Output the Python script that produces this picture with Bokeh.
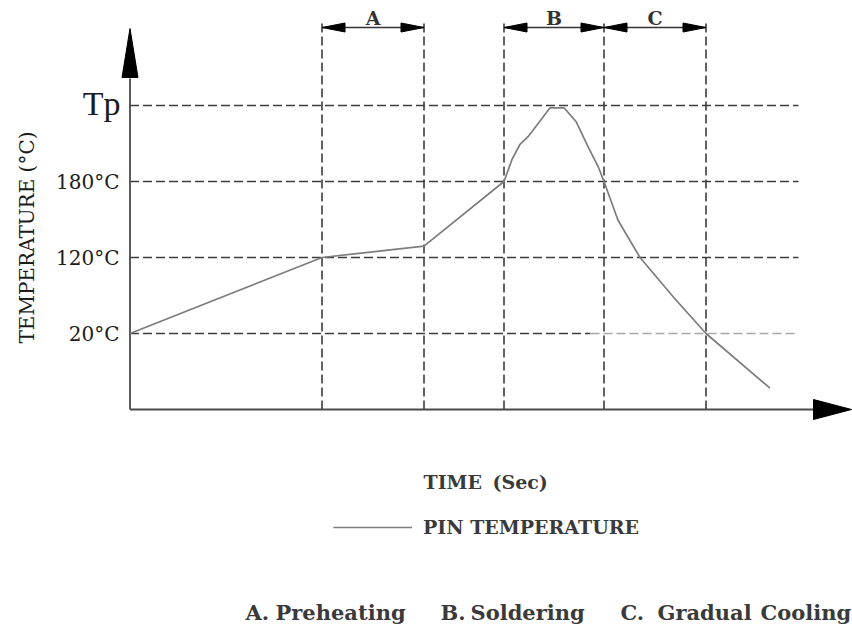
import math
from bokeh.plotting import figure
from bokeh.models import Range1d, Legend, LegendItem
from bokeh.core.properties import value
from bokeh.embed import file_html
from bokeh.resources import INLINE

# ---------------- data (schematic reflow profile) ----------------
time_s = [0, 96, 147, 187, 191, 195, 199, 204, 210, 217, 223, 229, 234, 237, 244, 255, 272, 288, 320]
temp_level = [1.0, 2.0, 2.15, 3.0, 3.29, 3.49, 3.59, 3.76, 3.97, 3.97, 3.79, 3.46, 3.2, 3.0, 2.49, 2.0, 1.47, 1.0, 0.28]

level_values = [1, 2, 3]
level_labels = ["20°C", "120°C", "180°C"]
peak_level = 4
peak_label = "Tp"

phase_bounds = [96, 147, 187, 237, 288]
phase_names = ["A", "B", "C"]
phase_start = [96, 187, 237]
phase_end = [147, 237, 288]

y_title = "TEMPERATURE (°C)"
x_title_words = ["TIME", "(Sec)"]
legend_label = "PIN TEMPERATURE"
note_words = ["A.", "Preheating", "B.", "Soldering", "C.", "Gradual", "Cooling"]

# ---------------- layout helpers ----------------
W, H = 852, 627
PX = 2.0    # px per time unit
PY = 76.0   # px per level unit
OX = 129.5  # px of the y axis
OY = 409.0  # px of the x axis


def fx(X):
    return (X - OX) / PX


def fy(Y):
    return (OY - Y) / PY


p = figure(width=W, height=H, output_backend="svg", toolbar_location=None,
           x_range=Range1d(fx(0), fx(W)), y_range=Range1d(fy(H), fy(0)),
           min_border=0, tools="")
p.axis.visible = False
p.grid.visible = False
p.outline_line_color = None
p.background_fill_color = "white"

DASH_COL = "#3c3c3c"
AX_COL = "#4a4a4a"
TXT = "#1c1c1c"
TXT2 = "#3a3a3a"
SERIF = value("DejaVu Serif")

# horizontal dashed reference lines
x_end = fx(798)
x_split = fx(590)
p.segment(x0=[0, 0, 0, 0, x_split], y0=level_values + [peak_level] + [1],
          x1=[x_split, x_end, x_end, x_end, x_end], y1=level_values + [peak_level] + [1],
          line_color=[DASH_COL, DASH_COL, DASH_COL, DASH_COL, "#a8a8a8"],
          line_width=1.6, line_dash="9 4")

# vertical dashed phase boundaries
top_v = fy(20)
p.segment(x0=phase_bounds, y0=[0] * len(phase_bounds), x1=phase_bounds, y1=[top_v] * len(phase_bounds),
          line_color=DASH_COL, line_width=1.6, line_dash="9 4")

# axes
p.segment(x0=[0, 0], y0=[0, 0], x1=[0, fx(815)], y1=[fy(78), 0], line_color=AX_COL, line_width=1.8)
p.patch(x=[-8 / PX, 8 / PX, 0], y=[fy(77), fy(77), fy(28)], fill_color="black", line_color="black")
p.patch(x=[fx(813), fx(813), fx(851)], y=[10 / PY, -10 / PY, 0], fill_color="black", line_color="black")

# dimension arrows for phases
yd = fy(27)
hl = 23 / PX
hh = 4.5 / PY
p.segment(x0=phase_start, y0=[yd] * 3, x1=phase_end, y1=[yd] * 3, line_color="#333333", line_width=1.5)
xs, ys = [], []
for a, b in zip(phase_start, phase_end):
    xs.append([a, a + hl, a + hl]); ys.append([yd, yd + hh, yd - hh])
    xs.append([b, b - hl, b - hl]); ys.append([yd, yd + hh, yd - hh])
p.patches(xs=xs, ys=ys, fill_color="black", line_color="black")
p.text(x=[(a + b) / 2 for a, b in zip(phase_start, phase_end)], y=[fy(17)] * 3, text=phase_names,
       text_font=SERIF, text_font_size="19px", text_font_style="bold", text_color="#333333",
       text_align="center", text_baseline="middle")

# temperature curve
curve = p.line(time_s, temp_level, line_color="#7c7c7c", line_width=1.7, line_join="round")

# level labels
p.text(x=[fx(119)] * 3, y=level_values, text=level_labels, text_font=SERIF, text_font_size="20px",
       text_color=TXT, text_align="right", text_baseline="middle")
p.text(x=[fx(120)], y=[peak_level + 0.02], text=[peak_label], text_font=value("Liberation Serif"),
       text_font_size="34px", text_color=TXT, text_align="right", text_baseline="middle")

# axis titles
p.text(x=[fx(26)], y=[fy(237)], text=[y_title], text_font=SERIF, text_font_size="20px",
       text_color=TXT, angle=math.pi / 2, text_align="center", text_baseline="middle")
p.text(x=[fx(423), fx(492)], y=[fy(481)] * 2, text=x_title_words, text_font=SERIF,
       text_font_size="19px", text_font_style="bold", text_color=TXT2,
       text_align="left", text_baseline="middle")

# legend
legend = Legend(items=[LegendItem(label=legend_label, renderers=[curve])], location=(333, H - 538),
                glyph_width=79, glyph_height=20, label_standoff=11, padding=0, margin=0,
                border_line_color=None, background_fill_alpha=0,
                label_text_font="DejaVu Serif", label_text_font_size="19px",
                label_text_font_style="bold", label_text_color=TXT2)
p.add_layout(legend, "center")

# phase notes
note_x = [245, 275, 440, 470, 620, 657, 760]
p.text(x=[fx(v) for v in note_x], y=[fy(612)] * len(note_words), text=note_words, text_font=SERIF,
       text_font_size="21px", text_font_style="bold", text_color=TXT2,
       text_align="left", text_baseline="middle")

open("out.html", "w").write(file_html(p, INLINE))
